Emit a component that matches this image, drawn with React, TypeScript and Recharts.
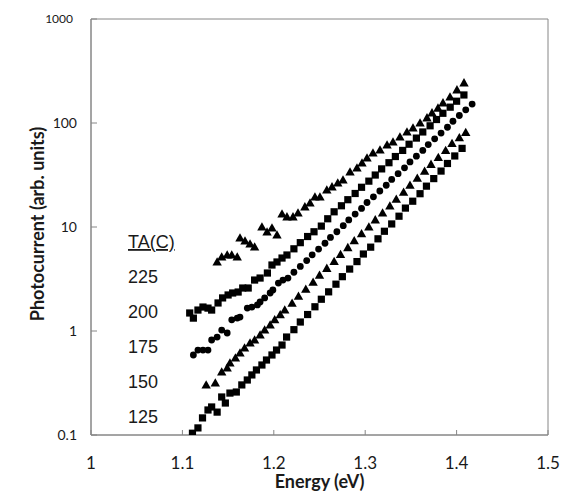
import React from 'react';
import { ScatterChart, Scatter, XAxis, YAxis, ReferenceArea } from 'recharts';

// Energy (eV), photocurrent (arb. units)
const ta125: [number, number][] = [
  [1.111, 0.104], [1.117, 0.117], [1.122, 0.146], [1.128, 0.174], [1.132, 0.186], [1.138, 0.166],
  [1.143, 0.232], [1.147, 0.203], [1.152, 0.253], [1.159, 0.259], [1.165, 0.303], [1.171, 0.338],
  [1.176, 0.378], [1.181, 0.422], [1.187, 0.471], [1.192, 0.526], [1.198, 0.588], [1.203, 0.656],
  [1.209, 0.733], [1.214, 0.875], [1.222, 1.03], [1.229, 1.22], [1.237, 1.44], [1.245, 1.71],
  [1.252, 2.02], [1.26, 2.38], [1.268, 2.82], [1.275, 3.33], [1.283, 3.94], [1.291, 4.65],
  [1.298, 5.5], [1.306, 6.4], [1.314, 7.7], [1.321, 9.1], [1.329, 10.7], [1.337, 12.7],
  [1.344, 15.2], [1.352, 17.7], [1.36, 20.9], [1.367, 24.7], [1.375, 29.2], [1.383, 34.5],
  [1.39, 40.8], [1.398, 48.2], [1.406, 57.0],
];

const ta150: [number, number][] = [
  [1.126, 0.303], [1.136, 0.316], [1.143, 0.404], [1.149, 0.441], [1.152, 0.492], [1.158, 0.55],
  [1.163, 0.614], [1.168, 0.687], [1.174, 0.767], [1.179, 0.819], [1.185, 0.916], [1.19, 1.02],
  [1.196, 1.14], [1.201, 1.28], [1.207, 1.43], [1.212, 1.59], [1.22, 1.85], [1.227, 2.16],
  [1.235, 2.52], [1.243, 2.94], [1.25, 3.43], [1.258, 4.0], [1.266, 4.66], [1.273, 5.43],
  [1.281, 6.33], [1.288, 7.38], [1.296, 8.6], [1.304, 10.0], [1.311, 11.7], [1.319, 13.6],
  [1.327, 15.9], [1.334, 18.5], [1.342, 21.6], [1.349, 25.2], [1.357, 29.4], [1.365, 34.3],
  [1.372, 40.0], [1.38, 46.6], [1.388, 54.4], [1.395, 63.4], [1.403, 72], [1.41, 81],
];

const ta175: [number, number][] = [
  [1.112, 0.588], [1.117, 0.656], [1.1225, 0.656], [1.128, 0.656], [1.132, 0.819], [1.138, 0.875],
  [1.143, 1.02], [1.149, 0.957], [1.154, 1.28], [1.16, 1.33], [1.163, 1.36], [1.171, 1.66],
  [1.176, 1.7], [1.182, 1.78], [1.185, 1.9], [1.19, 2.08], [1.196, 2.32], [1.199, 2.48],
  [1.205, 2.89], [1.21, 3.09], [1.2155, 3.23], [1.222, 3.67], [1.229, 4.18], [1.236, 4.75],
  [1.242, 5.4], [1.249, 6.14], [1.256, 6.98], [1.262, 7.94], [1.269, 9.0], [1.276, 10.3],
  [1.282, 11.7], [1.289, 13.3], [1.296, 15.1], [1.302, 17.2], [1.309, 19.5], [1.316, 22.2],
  [1.323, 25.2], [1.329, 28.7], [1.336, 32.6], [1.343, 37.1], [1.349, 42.2], [1.356, 48.0],
  [1.363, 54.5], [1.369, 62], [1.376, 70.5], [1.383, 80], [1.39, 91], [1.396, 104],
  [1.403, 118], [1.41, 134], [1.417, 152],
];

const ta200: [number, number][] = [
  [1.108, 1.49], [1.112, 1.33], [1.117, 1.59], [1.1225, 1.7], [1.128, 1.66], [1.132, 1.59],
  [1.139, 1.86], [1.144, 2.08], [1.15, 2.22], [1.155, 2.32], [1.161, 2.37], [1.166, 2.59],
  [1.172, 2.59], [1.179, 3.09], [1.185, 3.23], [1.193, 3.61], [1.198, 4.31], [1.2035, 4.61],
  [1.209, 5.03], [1.2144, 5.38], [1.222, 6.17], [1.229, 7.07], [1.237, 8.1], [1.244, 9.0],
  [1.252, 10.2], [1.259, 12.0], [1.266, 14.0], [1.274, 16.0], [1.281, 18.3], [1.289, 21.0],
  [1.296, 24.1], [1.304, 27.6], [1.311, 31.6], [1.318, 36.2], [1.326, 41.5], [1.333, 47.6],
  [1.341, 54.5], [1.348, 62.5], [1.356, 71.6], [1.363, 82], [1.371, 94], [1.378, 108],
  [1.385, 124], [1.393, 142], [1.4, 162], [1.408, 186],
];

const ta225: [number, number][] = [
  [1.138, 4.61], [1.143, 5.15], [1.149, 5.38], [1.154, 5.38], [1.16, 5.15], [1.163, 7.84],
  [1.1685, 7.33], [1.174, 6.87], [1.179, 6.42], [1.187, 10.0], [1.1926, 8.95], [1.198, 9.78],
  [1.2035, 8.38], [1.209, 13.3], [1.2144, 12.5], [1.221, 12.5], [1.2265, 13.6], [1.234, 15.6],
  [1.2396, 17.0], [1.245, 19.4], [1.2505, 19.4], [1.258, 22.7], [1.2637, 24.3], [1.27, 26.5],
  [1.2757, 28.3], [1.2834, 33.8], [1.291, 36.9], [1.2965, 41.2], [1.302, 46.0], [1.3085, 51.5],
  [1.3162, 55.0], [1.3239, 61.4], [1.3304, 65.6], [1.338, 73.3], [1.3457, 81.9], [1.3523, 89.5],
  [1.36, 100], [1.3676, 112], [1.3731, 125], [1.3796, 139], [1.3851, 156], [1.3928, 178],
  [1.4004, 208], [1.4081, 243],
];

const xTicks = [1, 1.1, 1.2, 1.3, 1.4, 1.5];
const yTicks = [0.1, 1, 10, 100, 1000];
const legendTitle = 'TA(C)';
const legendLabels = ['225', '200', '175', '150', '125'];

const toPts = (arr: [number, number][]) => arr.map(([e, v]) => ({ e, v }));

const AXIS = '#868686';
const INK = '#1a1a1a';

const Square = (p: any) => (
  <rect x={p.cx - 3.6} y={p.cy - 3.6} width={7.2} height={7.2} fill="#000" />
);
const Dot = (p: any) => <circle cx={p.cx} cy={p.cy} r={3.4} fill="#000" />;
const Tri = (p: any) => (
  <polygon
    points={`${p.cx},${p.cy - 4.8} ${p.cx + 4.7},${p.cy + 3.5} ${p.cx - 4.7},${p.cy + 3.5}`}
    fill="#000"
  />
);

const XTick = (p: any) => {
  const { x, y, payload } = p;
  return (
    <g>
      <line x1={x} y1={y} x2={x} y2={y - 5} stroke={AXIS} />
      <text x={x} y={y + 34} textAnchor="middle" fontFamily="Lato" fontSize={17} fill={INK}>
        {String(payload.value)}
      </text>
    </g>
  );
};

const YTick = (p: any) => {
  const { x, y, payload } = p;
  const big = payload.value >= 1000;
  return (
    <g>
      <line x1={x} y1={y} x2={x + 6} y2={y} stroke={AXIS} />
      <text
        x={x - (big ? 18 : 14)}
        y={y + (big ? 4 : 5)}
        textAnchor="end"
        fontFamily="Lato"
        fontSize={big ? 12 : 14}
        fill={INK}
      >
        {String(payload.value)}
      </text>
    </g>
  );
};

const YTitle = (p: any) => {
  const vb = p.viewBox || { x: 0, y: 19, width: 91, height: 416 };
  const cx = vb.x + 37;
  const cy = vb.y + vb.height / 2 - 3;
  return (
    <text
      x={cx}
      y={cy}
      transform={`rotate(-90 ${cx} ${cy})`}
      textAnchor="middle"
      dominantBaseline="central"
      fontFamily="Lato"
      fontWeight={700}
      fontSize={18}
      fill={INK}
    >
      Photocurrent (arb. units)
    </text>
  );
};

const XTitle = (p: any) => {
  const vb = p.viewBox || { x: 91, y: 435, width: 457, height: 68 };
  return (
    <text
      x={vb.x + vb.width / 2}
      y={vb.y + 53}
      textAnchor="middle"
      fontFamily="Lato"
      fontWeight={700}
      fontSize={18}
      fill={INK}
    >
      Energy (eV)
    </text>
  );
};

export default function App() {
  return (
    <div style={{ position: 'absolute', left: 0, top: 0, width: 572, height: 503, background: '#fff' }}>
      <ScatterChart width={572} height={503} margin={{ top: 19, right: 24, bottom: 0, left: 0 }}>
        <XAxis
          type="number"
          dataKey="e"
          domain={[1, 1.5]}
          ticks={xTicks}
          height={68}
          tickSize={0}
          tickMargin={0}
          tickLine={false}
          axisLine={{ stroke: AXIS }}
          tick={(p: any) => <XTick {...p} />}
          allowDataOverflow
          label={{ content: (p: any) => <XTitle {...p} /> }}
        />
        <YAxis
          type="number"
          dataKey="v"
          scale="log"
          domain={[0.1, 1000]}
          ticks={yTicks}
          width={91}
          tickSize={0}
          tickMargin={0}
          tickLine={false}
          axisLine={{ stroke: AXIS }}
          tick={(p: any) => <YTick {...p} />}
          allowDataOverflow
          label={{ content: (p: any) => <YTitle {...p} /> }}
        />
        <ReferenceArea x1={1} x2={1.5} y1={0.1} y2={1000} fill="none" stroke={AXIS} strokeWidth={1} />
        <Scatter data={toPts(ta125)} shape={Square} isAnimationActive={false} />
        <Scatter data={toPts(ta150)} shape={Tri} isAnimationActive={false} />
        <Scatter data={toPts(ta175)} shape={Dot} isAnimationActive={false} />
        <Scatter data={toPts(ta200)} shape={Square} isAnimationActive={false} />
        <Scatter data={toPts(ta225)} shape={Tri} isAnimationActive={false} />
      </ScatterChart>
      <svg
        width={572}
        height={503}
        style={{ position: 'absolute', left: 0, top: 0, pointerEvents: 'none' }}
      >
        <text
          x={128}
          y={248}
          fontFamily="Liberation Sans"
          fontSize={18}
          fill={INK}
          style={{ textDecoration: 'underline' }}
        >
          {legendTitle}
        </text>
        {legendLabels.map((t, i) => (
          <text key={t} x={128} y={283 + i * 35} fontFamily="Liberation Sans" fontSize={18} fill={INK}>
            {t}
          </text>
        ))}
      </svg>
    </div>
  );
}
